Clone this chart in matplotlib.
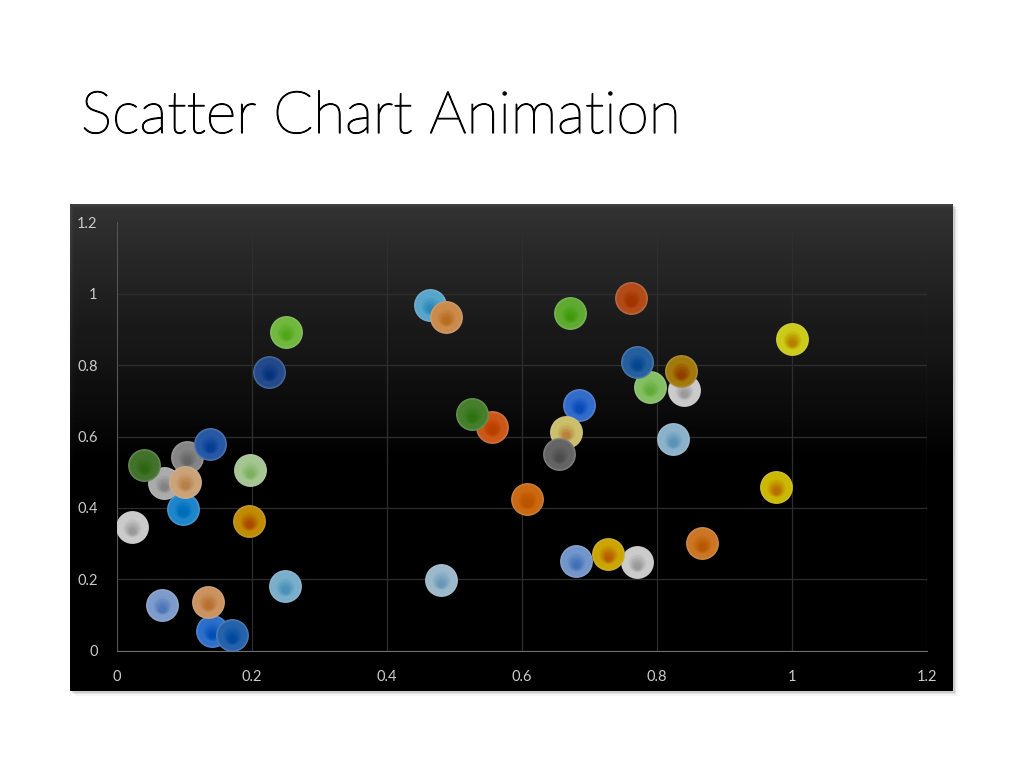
import matplotlib.pyplot as plt
import matplotlib.colors as mcolors
import matplotlib.patheffects as pe
import numpy as np
from matplotlib.patches import Rectangle

# scatter data, in drawing order (later balls sit on top)
x_vals = [0.250, 0.225, 0.104, 0.069, 0.040, 0.138, 0.098, 0.101, 0.197, 0.022,
          0.196, 0.249, 0.066, 0.140, 0.171, 0.135, 0.464, 0.487, 0.671, 0.761,
          0.789, 0.770, 0.840, 0.836, 0.555, 0.526, 0.684, 0.665, 0.655, 0.823,
          0.607, 0.680, 0.770, 0.727, 0.480, 1.000, 0.976, 0.867]
y_vals = [0.893, 0.782, 0.542, 0.469, 0.520, 0.578, 0.397, 0.473, 0.506, 0.346,
          0.364, 0.181, 0.128, 0.055, 0.044, 0.137, 0.968, 0.936, 0.945, 0.987,
          0.738, 0.808, 0.730, 0.783, 0.627, 0.662, 0.688, 0.613, 0.550, 0.592,
          0.424, 0.251, 0.248, 0.271, 0.198, 0.872, 0.458, 0.301]
ball_colors = ['#8ee850', '#2e5eb0', '#a8a8a8', '#d8d8d8', '#559038', '#3270d0',
               '#28a8ff', '#ffcc98', '#d0f8b8', '#ffffff', '#f0b000', '#98dcff',
               '#a0c4ff', '#3a8cff', '#2e7cd8', '#ffb878', '#70d0ff', '#ffb060',
               '#78d840', '#e06020', '#a8f080', '#3078c8', '#ffffff', '#cc9810',
               '#ff7020', '#58a038', '#4088ff', '#fff088', '#808080', '#b0e0ff',
               '#ff8418', '#90bcff', '#ffffff', '#ffd000', '#c4e8ff', '#ffff20',
               '#ffe800', '#ff9430']

x_ticks = [0, 0.2, 0.4, 0.6, 0.8, 1, 1.2]
y_ticks = [0, 0.2, 0.4, 0.6, 0.8, 1, 1.2]
tick_labels = ['0', '0.2', '0.4', '0.6', '0.8', '1', '1.2']


def mix(c, other, t):
    a = np.array(mcolors.to_rgb(c))
    b = np.array(mcolors.to_rgb(other))
    return tuple(a * (1 - t) + b * t)


def deepen(c, amt):
    # core of a glass ball: more saturated, warmer for yellows, greyer for whites
    h, s, v = mcolors.rgb_to_hsv(mcolors.to_rgb(c))
    if s > 0.08:
        s = min(1, s + amt * 1.0)
        v = v * (1 - amt * 0.5)
        if 0.12 < h < 0.2:
            h = h - amt * 0.25
    else:
        v = v * (1 - amt * 1.2)
    return tuple(mcolors.hsv_to_rgb([h, s, v]))


fig = plt.figure(figsize=(10.24, 7.68), dpi=100)
fig.patch.set_facecolor('white')

fig.text(81 / 1024, 1 - 133 / 768, 'Scatter Chart Animation', fontsize=42.3,
         family=['Lato', 'DejaVu Sans'], fontweight='light', color='black',
         ha='left', va='baseline',
         path_effects=[pe.withStroke(linewidth=0.9, foreground='black')])

# chart area with shadow and vertical gradient
W, H = 1024, 768
cx0, cy0, cx1, cy1 = 70, 204, 953, 691
for i, a in enumerate([0.10, 0.07, 0.04]):
    off = (i + 1) * 1.5
    fig.patches.append(Rectangle(((cx0 + off) / W, 1 - (cy1 + off) / H),
                                 (cx1 - cx0) / W, (cy1 - cy0) / H,
                                 transform=fig.transFigure, color='black',
                                 alpha=a, lw=0, zorder=0))
bg = fig.add_axes([cx0 / W, 1 - cy1 / H, (cx1 - cx0) / W, (cy1 - cy0) / H])
t = np.linspace(0, 1, 400)
v = np.clip(0.25 * (1 - t / 0.55), 0, 1)
grad = np.dstack([v, v, v])[0][:, None, :].repeat(2, axis=1)
bg.imshow(grad, aspect='auto', extent=[0, 1, 0, 1], origin='upper')
bg.set_axis_off()

ax = fig.add_axes([117 / W, 1 - 650.7 / H, 810 / W, 428.4 / H])
ax.set_facecolor('none')
ax.set_xlim(0, 1.2)
ax.set_ylim(0, 1.2)
ax.set_xticks(x_ticks)
ax.set_yticks(y_ticks)
ax.set_xticklabels(tick_labels)
ax.set_yticklabels(tick_labels)
ax.tick_params(length=0, colors='white', labelsize=10.5, pad=14)
for lab in ax.get_xticklabels() + ax.get_yticklabels():
    lab.set_family(['Lato', 'DejaVu Sans'])
ax.grid(True, color='#3a3a3a', lw=0.9)
ax.set_axisbelow(True)
for side in ['top', 'right']:
    ax.spines[side].set_visible(False)
ax.spines['left'].set_color('#6a6a6a')
ax.spines['bottom'].set_color('#8a8a8a')

# glassy balls: bright body and rim, smaller deeper core sitting a bit low
full = 560
fracs = np.linspace(1.0, 0.2, 14)
z = 3
for x, y, c in zip(x_vals, y_vals, ball_colors):
    for f in fracs:
        if f > 0.88:
            col = mix(c, 'white', 0.25 * (f - 0.88) / 0.12)
            dy = 0
        elif f > 0.62:
            col = mcolors.to_rgb(c)
            dy = 0
        else:
            col = deepen(c, 0.2 * (0.62 - f) / 0.42)
            dy = -0.01 * (0.62 - f) / 0.42
        ax.scatter([x], [y + dy], s=full * f ** 2, color=col, lw=0, zorder=z)
        z += 1

fig.savefig('out.png', dpi=100)
